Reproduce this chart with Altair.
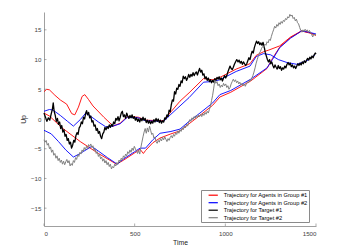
import altair as alt
import pandas as pd

series_names = ["Trajectory for Agents in Group #1", "Trajectory for Agents in Group #2",
                "Trajectory for Target #1", "Trajectory for Target #2"]
series_colors = ["#ff0000", "#0000ff", "#000000", "#808080"]

x_ticks = [0, 500, 1000, 1500]
y_ticks = [-15, -10, -5, 0, 5, 10, 15]

red_a = [(0, 4.6), (15, 5.0), (30, 4.9), (60, 4.0), (90, 3.2), (125, 2.5), (153, 0.9), (170, 0.7),
         (190, 2.0), (210, 3.8), (225, 4.1), (245, 3.3), (270, 2.2), (330, 0.3), (382, -1.2),
         (420, -0.7), (460, 0.4), (520, 0.3), (560, -0.2), (660, -0.3), (700, 1.2), (750, 3.0),
         (800, 4.4), (880, 6.8), (930, 6.6), (970, 7.0), (1060, 8.4), (1136, 9.3), (1170, 10.7),
         (1210, 11.3), (1240, 11.6), (1300, 12.3), (1360, 13.8), (1420, 14.8), (1460, 14.6), (1500, 14.1)]
red_b = [(0, 1.0), (30, 0.5), (100, -1.5), (200, -3.8), (300, -5.8), (400, -7.6), (440, -6.9),
         (500, -5.7), (530, -5.1), (548, -5.8), (560, -5.3), (600, -4.0), (640, -3.2), (700, -2.5),
         (750, -2.0), (800, -0.8), (860, 0.6), (930, 2.3), (970, 3.7), (1030, 4.5), (1140, 6.4),
         (1230, 8.5), (1260, 10.2), (1300, 12.1), (1360, 13.7), (1420, 14.8), (1460, 14.5), (1500, 14.1)]
blue_a = [(0, 1.3), (30, 1.6), (50, 1.5), (90, 0.6), (130, -0.4), (162, -1.2), (200, -0.1),
          (230, 1.0), (260, 0.4), (300, -0.5), (340, -1.3), (370, -1.3), (420, -0.8), (460, 0.3),
          (520, 0.2), (560, -0.3), (660, -0.4), (700, 0.8), (750, 2.2), (800, 3.6), (880, 6.2),
          (930, 6.3), (970, 6.6), (1060, 8.0), (1136, 8.9), (1170, 10.5), (1210, 11.0), (1250, 10.8),
          (1292, 10.0), (1340, 9.5), (1394, 9.2), (1450, 9.8), (1495, 10.8)]
blue_b = [(0, -1.9), (40, -2.5), (80, -3.8), (120, -5.2), (162, -6.4), (200, -5.8), (263, -4.6),
          (300, -5.4), (350, -6.5), (404, -7.6), (440, -6.7), (500, -5.5), (530, -4.9), (560, -4.9),
          (600, -3.5), (640, -2.4), (700, -2.1), (750, -1.7), (800, -0.4), (860, 1.0), (930, 2.7),
          (970, 4.1), (1030, 4.8), (1140, 6.7), (1230, 8.6), (1260, 10.0), (1300, 12.0), (1360, 13.6),
          (1420, 14.8), (1460, 14.6), (1500, 14.3)]

target_1 = [(0,1.0),(8,0.3),(16,-0.4),(24,0.2),(32,-0.2),(40,0.9),(46,1.6),(51,2.7),(56,1.3),(62,0.6),(68,-0.4),(74,0.1),(80,-0.9),(86,-0.5),(92,-1.6),(98,-1.1),(104,-2.2),(110,-1.8),(116,-2.9),(122,-2.6),(128,-3.6),(134,-3.3),(140,-4.2),(146,-3.9),(152,-4.9),(158,-4.4),(164,-3.6),(170,-3.9),(176,-2.8),(182,-2.3),(188,-2.6),(194,-1.5),(200,-1.2),(206,-0.5),(212,-0.8),(218,0.3),(224,0.0),(230,1.0),(235,1.4),(240,0.7),(246,1.1),(252,0.2),(258,0.5),(264,-0.5),(270,-0.3),(276,-1.2),(282,-1.0),(288,-1.9),(294,-1.6),(300,-2.4),(306,-2.1),(312,-2.9),(318,-3.3),(324,-2.5),(330,-2.2),(336,-1.4),(342,-1.8),(348,-1.3),(354,-1.6),(360,-1.0),(366,-1.4),(372,-0.9),(378,-1.2),(384,-0.5),(390,-0.8),(396,0.1),(402,-0.2),(408,0.4),(414,-0.3),(420,0.3),(426,1.0),(432,1.3),(438,0.4),(444,0.7),(450,0.1),(456,1.0),(462,0.5),(468,0.1),(474,0.6),(480,0.2),(486,0.7),(492,0.1),(498,0.4),(504,-0.2),(510,0.2),(516,-0.4),(522,0.0),(528,-0.5),(534,0.1),(540,-0.3),(546,0.3),(552,-0.2),(558,0.1),(564,-0.6),(570,-0.2),(576,-0.7),(582,-0.3),(588,-0.8),(594,-0.4),(600,-0.7),(606,-0.1),(612,-0.5),(618,0.1),(624,-0.4),(630,0.0),(636,-0.6),(642,-0.2),(648,-0.7),(654,-0.3),(660,-0.5),(666,0.2),(672,0.0),(678,0.7),(684,0.4),(690,1.5),(696,1.2),(702,2.4),(708,3.2),(714,3.0),(720,4.6),(726,4.2),(732,5.2),(738,5.0),(744,5.8),(750,5.5),(756,6.4),(762,6.1),(768,7.2),(774,6.8),(780,7.1),(786,6.5),(792,6.9),(798,7.5),(804,7.0),(810,7.5),(816,7.2),(822,7.8),(828,7.3),(834,7.7),(840,7.9),(846,7.4),(852,8.0),(858,8.5),(864,7.9),(870,8.2),(876,7.4),(882,7.6),(888,6.8),(894,7.1),(900,6.5),(906,6.9),(912,6.3),(918,6.6),(924,6.1),(930,6.5),(936,6.2),(942,6.8),(948,6.5),(954,7.0),(960,6.7),(966,7.1),(972,6.6),(978,6.9),(984,6.4),(990,6.9),(996,7.3),(1002,6.9),(1008,7.3),(1014,7.9),(1020,8.4),(1026,8.9),(1032,8.5),(1038,8.3),(1044,8.7),(1050,9.2),(1056,9.6),(1063,10.0),(1070,9.6),(1076,9.9),(1082,9.4),(1088,9.7),(1094,9.2),(1100,9.6),(1106,9.3),(1112,9.0),(1118,9.3),(1124,9.8),(1130,10.3),(1136,10.0),(1142,10.8),(1148,11.4),(1154,11.1),(1160,12.0),(1166,12.6),(1172,13.1),(1178,12.7),(1184,13.0),(1190,12.5),(1196,12.8),(1202,12.4),(1208,12.9),(1214,12.2),(1220,11.2),(1226,10.6),(1232,10.0),(1238,9.6),(1244,10.0),(1250,9.3),(1256,9.6),(1262,9.0),(1268,8.6),(1274,9.1),(1280,8.7),(1286,8.4),(1292,9.0),(1298,8.5),(1304,8.8),(1310,8.2),(1316,8.6),(1322,8.4),(1328,8.9),(1334,8.6),(1340,9.2),(1346,9.5),(1352,9.1),(1358,9.4),(1364,8.8),(1370,9.1),(1376,8.6),(1382,8.9),(1388,8.5),(1394,8.9),(1400,9.3),(1406,9.0),(1412,9.4),(1418,9.1),(1424,9.6),(1430,9.3),(1436,9.8),(1442,9.5),(1448,9.9),(1454,10.2),(1460,9.9),(1466,10.4),(1472,10.1),(1478,10.6),(1484,10.3),(1490,10.8),(1496,11.1),(1500,10.9)]

target_2 = [(0,-3.5),(6,-3.9),(12,-3.6),(18,-4.4),(24,-4.1),(30,-5.0),(36,-4.7),(42,-5.6),(48,-5.2),(54,-6.1),(60,-5.8),(66,-6.6),(72,-6.2),(78,-7.0),(84,-6.6),(90,-7.3),(96,-6.9),(102,-7.6),(108,-7.1),(114,-7.7),(120,-7.2),(126,-6.8),(132,-7.4),(138,-7.0),(144,-7.9),(150,-7.5),(156,-7.8),(162,-7.0),(168,-7.3),(174,-6.5),(180,-6.8),(186,-6.0),(192,-6.3),(198,-5.6),(204,-5.9),(210,-5.2),(216,-5.5),(222,-4.8),(228,-5.2),(234,-4.6),(240,-5.0),(246,-4.3),(252,-4.6),(258,-4.2),(264,-4.8),(270,-4.5),(276,-5.3),(282,-5.0),(288,-5.8),(294,-5.5),(300,-6.3),(306,-5.9),(312,-6.7),(318,-6.4),(324,-7.1),(330,-6.7),(336,-7.4),(342,-7.0),(348,-7.7),(354,-7.3),(360,-8.0),(366,-7.6),(372,-8.4),(378,-8.0),(384,-8.2),(390,-7.6),(396,-7.9),(402,-7.3),(408,-7.6),(414,-6.9),(420,-7.2),(426,-6.6),(432,-6.9),(438,-6.2),(444,-6.5),(450,-5.9),(456,-6.2),(462,-5.5),(468,-5.8),(474,-5.2),(480,-5.6),(486,-4.9),(492,-5.3),(498,-4.6),(504,-5.0),(510,-5.4),(516,-5.8),(522,-5.3),(528,-5.9),(534,-4.8),(540,-3.9),(546,-3.0),(552,-2.2),(558,-1.6),(564,-2.4),(570,-1.5),(576,-2.2),(582,-1.2),(588,-1.9),(594,-2.6),(600,-2.4),(606,-3.2),(612,-3.0),(618,-3.8),(624,-4.1),(630,-3.6),(636,-3.9),(642,-3.3),(648,-3.7),(654,-3.1),(660,-3.5),(666,-3.0),(672,-3.4),(678,-3.8),(684,-3.3),(690,-3.6),(696,-3.1),(702,-2.8),(708,-3.2),(714,-2.6),(720,-2.9),(726,-2.3),(732,-2.6),(738,-2.0),(744,-2.4),(750,-1.8),(756,-2.1),(762,-1.5),(768,-1.8),(774,-1.2),(780,-1.5),(786,-0.9),(792,-1.2),(798,-0.5),(804,-0.1),(810,-0.4),(816,0.2),(822,-0.1),(828,0.4),(834,0.1),(840,0.6),(846,0.2),(852,0.7),(858,0.4),(864,0.8),(870,0.4),(876,0.9),(882,0.6),(888,1.1),(894,0.8),(900,1.3),(906,1.0),(912,1.6),(918,2.2),(924,3.1),(930,4.0),(936,5.2),(942,6.5),(948,6.0),(954,6.3),(960,5.6),(966,5.9),(972,5.3),(978,5.7),(984,5.4),(990,6.0),(996,5.6),(1002,5.9),(1008,5.3),(1014,5.6),(1020,5.0),(1026,5.3),(1032,5.9),(1038,6.3),(1044,6.7),(1050,6.3),(1056,6.6),(1062,6.1),(1068,6.4),(1074,5.9),(1080,6.2),(1086,5.7),(1092,6.0),(1098,5.6),(1104,5.9),(1110,5.5),(1116,5.9),(1122,6.3),(1128,6.1),(1134,6.6),(1140,6.4),(1146,6.9),(1152,7.3),(1158,7.9),(1164,8.6),(1170,9.4),(1176,10.0),(1182,10.6),(1188,11.1),(1194,11.4),(1200,11.9),(1206,12.2),(1212,12.0),(1218,12.6),(1224,12.4),(1230,13.0),(1236,12.8),(1242,13.4),(1248,13.2),(1254,13.9),(1260,14.5),(1266,15.0),(1272,15.6),(1278,15.3),(1284,15.9),(1290,15.6),(1296,16.2),(1302,15.9),(1308,16.4),(1314,16.1),(1320,16.6),(1326,16.4),(1332,16.9),(1338,16.7),(1344,17.2),(1350,17.0),(1356,17.6),(1362,17.3),(1368,17.5),(1374,16.9),(1380,17.1),(1386,16.5),(1392,16.8),(1398,16.2),(1404,16.0),(1410,15.4),(1416,14.9),(1422,14.6),(1428,15.0),(1434,14.7),(1440,15.1),(1446,14.8),(1452,15.0),(1458,14.6),(1464,14.9),(1470,14.5),(1476,14.2),(1482,13.8),(1488,14.3),(1494,14.1),(1500,14.3)]


def frame(tracks, series):
    rows = []
    for k, tr in enumerate(tracks):
        for t, v in tr:
            rows.append({"t": t, "v": v, "id": f"{series}-{k}", "series": series})
    return pd.DataFrame(rows)


df_red = frame([red_a, red_b], series_names[0])
df_blue = frame([blue_a, blue_b], series_names[1])
df_black = frame([target_1], series_names[2])
df_gray = frame([target_2], series_names[3])

FONT = "Liberation Sans"
xs = alt.Scale(domain=[0, 1500], nice=False, zero=False)
ys = alt.Scale(domain=[-18, 18], nice=False, zero=False)
cs = alt.Scale(domain=series_names, range=series_colors)

x_axis = alt.Axis(values=x_ticks, grid=False, ticks=False, labelPadding=4,
                  titlePadding=3, format="d", labelOverlap=False)
y_axis = alt.Axis(values=y_ticks, grid=False, ticks=False, labelPadding=3,
                  titlePadding=4, labelOverlap=False)
x_enc = alt.X("t:Q", scale=xs, title="Time", axis=x_axis)
y_enc = alt.Y("v:Q", scale=ys, title="Up", axis=y_axis)

legend = alt.Legend(orient="none", legendX=157, legendY=178, title=None,
                    symbolType="M-1.5,0H1.5", symbolSize=38, symbolStrokeWidth=1.2,
                    labelFontSize=5.7, labelFont=FONT, labelColor="#000000",
                    strokeColor="#8a8a8a", fillColor="#ffffff", padding=1.2,
                    rowPadding=0.5, labelLimit=200, labelOffset=6.5, symbolOffset=7)


def layer(df, width, show_legend=False):
    return alt.Chart(df).mark_line(strokeWidth=width, strokeJoin="round").encode(
        x=x_enc, y=y_enc,
        color=alt.Color("series:N", scale=cs, legend=legend if show_legend else None),
        detail="id:N", order="t:Q")


xt = alt.Chart(pd.DataFrame({"t": x_ticks})).mark_rule(color="#777777", strokeWidth=0.6).encode(
    x=alt.X("t:Q", scale=xs, axis=x_axis, title="Time"), y=alt.value(214), y2=alt.value(211.5))
yt = alt.Chart(pd.DataFrame({"v": y_ticks})).mark_rule(color="#777777", strokeWidth=0.6).encode(
    y=alt.Y("v:Q", scale=ys, axis=y_axis, title="Up"), x=alt.value(0), x2=alt.value(2.5))

chart = alt.layer(
    layer(df_red, 0.9, True),
    layer(df_blue, 0.9),
    layer(df_black, 1.3),
    layer(df_gray, 1.0),
    xt, yt,
).properties(
    width=272, height=214,
    autosize=alt.AutoSizeParams(type="none"),
    padding={"left": 36, "top": 4, "right": 20, "bottom": 20},
).configure_view(stroke=None).configure_axis(
    domainColor="#777777", domainWidth=0.7, labelOverlap=False,
    labelFont=FONT, labelFontSize=6.2, labelColor="#444444",
    titleFont=FONT, titleFontSize=6.8, titleFontWeight="normal", titleColor="#222222",
)

chart.save("out.html", embed_options={"renderer": "svg", "actions": False})
